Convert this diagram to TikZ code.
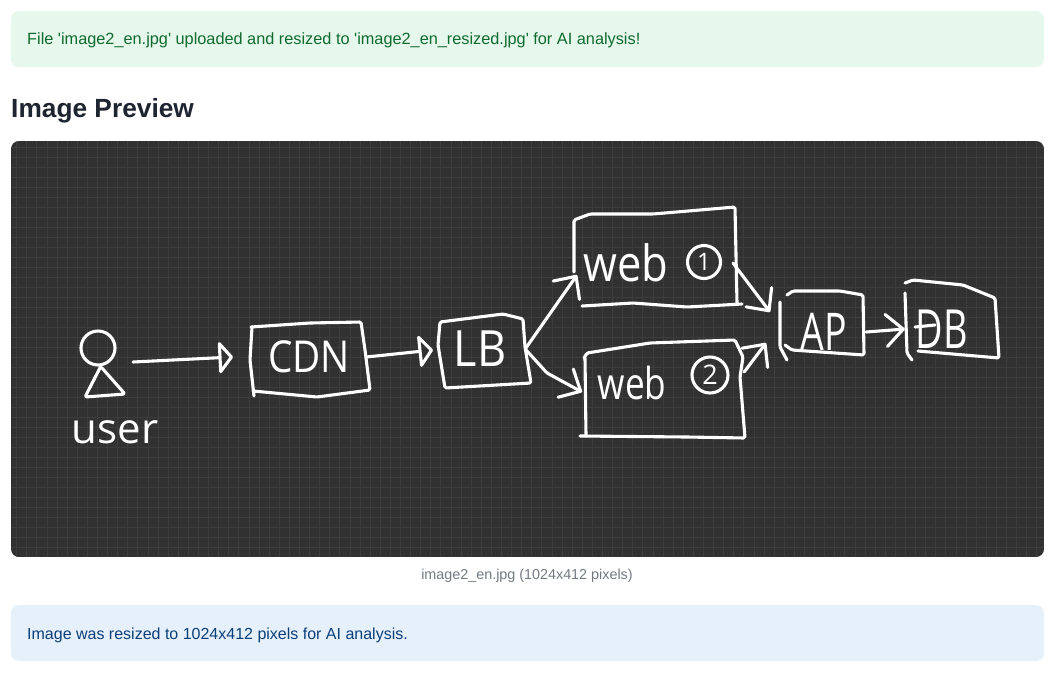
\documentclass[tikz,border=0pt]{standalone}
\usepackage{fontspec}
\usepackage{graphicx}
\setmainfont{Liberation Sans}
\newfontfamily\handfont{Open Sans}
\usetikzlibrary{arrows.meta}
\definecolor{panelbg}{HTML}{313131}
\definecolor{panelgrid}{HTML}{3D3D3D}
\definecolor{okbg}{HTML}{E6F7EC}
\definecolor{oktext}{HTML}{0F6B2F}
\definecolor{infobg}{HTML}{E6F0FB}
\definecolor{infotext}{HTML}{0A3F7A}
\definecolor{headtext}{HTML}{1F2530}
\definecolor{captext}{HTML}{737A82}
\newcommand{\narrowtext}[2]{\scalebox{#1}[1]{#2}}
\newcommand{\handsize}[1]{\handfont\fontsize{#1}{#1}\selectfont}
\begin{document}
\begin{tikzpicture}[x=1pt,y=-1pt]
\tikzset{alertbox/.style = {rounded corners=8pt}}
\tikzset{msg/.style = {anchor=base west,inner sep=0pt}}
\tikzset{stroke/.style = {draw=white,line width=3.1pt,line cap=round,line join=round,rounded corners=1.5pt}}
\tikzset{boxnode/.style = {inner sep=0pt,text=white,font=\handsize{44}}}
\tikzset{marknode/.style = {circle,draw=white,line width=3.1pt,inner sep=0pt,text=white,font=\handsize{24}}}
\tikzset{barbwire/.style = {stroke,-{Straight Barb[length=17pt,width=32pt,round]}}}
\tikzset{openwire/.style = {stroke,-{Triangle[open,length=15pt,width=36pt,round]}}}
\useasboundingbox (0,0) rectangle (1062,673);
\fill[white] (0,0) rectangle (1062,673);
% banners
\fill[okbg,alertbox] (11,11) rectangle (1044,67);
\fill[infobg,alertbox] (11,605) rectangle (1044,661);
\node[msg,text=oktext,font=\fontsize{16.3}{20}\selectfont] (okmsg) at (27,44) {File \textquotesingle image2\_en.jpg\textquotesingle{} uploaded and resized to \textquotesingle image2\_en\_resized.jpg\textquotesingle{} for AI analysis!};
\node[msg,text=infotext,font=\fontsize{16}{20}\selectfont] (infomsg) at (27,639) {Image was resized to 1024x412 pixels for AI analysis.};
\node[msg,text=headtext,font=\bfseries\fontsize{26.3}{30}\selectfont] (title) at (11,117) {Image Preview};
\node[inner sep=0pt,text=captext,font=\fontsize{14.35}{16}\selectfont] (caption) at (527,576) {image2\_en.jpg (1024x412 pixels)};
% panel
\begin{scope}
\clip[alertbox] (11,141) rectangle (1044,557);
\fill[panelbg] (11,141) rectangle (1044,557);
\foreach \gx in {0,...,102} \draw[panelgrid,line width=1pt] (16.7+10.1*\gx,141) -- (16.7+10.1*\gx,557);
\foreach \gy in {0,...,40} \draw[panelgrid,line width=1pt] (11,147.7+10*\gy) -- (1044,147.7+10*\gy);
\end{scope}
% user
\node[circle,draw=white,line width=3.1pt,minimum size=34pt,inner sep=0pt] (userhead) at (98,348) {};
\draw[stroke] (101,366) -- (85,397) -- (125,394) -- (102,368);
\node[boxnode,font=\handsize{42}] (user) at (115,432) {user};
\coordinate (userout) at (133,362);
% boxes
\node[boxnode,minimum width=114pt,minimum height=70pt] (cdn) at (309,357) {\narrowtext{.88}{CDN}};
\draw[stroke] (251,327) -- (310,323) -- (361,322) -- (365,350) -- (370,390) -- (317,397) -- (253,391);
\draw[stroke] (252,327) -- (250,360) -- (254,396);
\node[boxnode,font=\handsize{50},minimum width=90pt,minimum height=70pt] (lb) at (480,349) {\narrowtext{.9}{LB}};
\draw[stroke] (440,322) -- (503,314) -- (523,319) -- (525,347) -- (531,383) -- (445,388) -- (438,345) -- cycle;
\node[inner sep=0pt,minimum width=165pt,minimum height=95pt] (webone) at (655,258) {};
\draw[stroke] (574,272) -- (574,220) -- (590,214) -- (653,214) -- (735,207) -- (737,303);
\draw[stroke] (582,306) -- (633,303) -- (687,307) -- (742,304);
\node[boxnode,font=\handsize{50}] (webonetext) at (626,263) {\narrowtext{.87}{web}};
\node[marknode,minimum size=33pt] (webonemark) at (704,262) {1};
\node[inner sep=0pt,minimum width=160pt,minimum height=96pt] (webtwo) at (664,389) {};
\draw[stroke] (584,358) -- (587,353) -- (650,343) -- (735,340) -- (743,357) -- (740,377) -- (745,438) -- (687,437) -- (580,436);
\draw[stroke] (585,358) -- (586,436);
\node[boxnode] (webtwotext) at (632,383) {\narrowtext{.8}{web}};
\node[marknode,minimum size=36pt,font=\handsize{27}] (webtwomark) at (710,375) {2};
\node[boxnode,font=\handsize{52},minimum width=84pt,minimum height=68pt] (ap) at (824,332) {\narrowtext{.72}{AP}};
\draw[stroke] (780,302) -- (780,347) -- (787,360);
\draw[stroke] (785,345) -- (792,350) -- (864,355) -- (863,295) -- (840,291) -- (793,291) -- (787,295);
\node[boxnode,font=\handsize{54},minimum width=74pt,minimum height=70pt] (db) at (942,329) {\narrowtext{.7}{DB}};
\draw[stroke] (905,293) -- (907,353) -- (912,360);
\draw[stroke] (905,283) -- (913,280) -- (963,285) -- (995,298) -- (999,358) -- (918,351);
\draw[stroke] (915,327) -- (935,325);
% arrow ends
\coordinate (cdnin) at (233,357);
\coordinate (lbin) at (433,350);
\coordinate (weboneout) at (733,263);
\coordinate (webonein) at (577,275);
\coordinate (webtwoin) at (582,392);
\coordinate (apinone) at (770,312);
\coordinate (apintwo) at (766,343);
% edges
\draw[openwire] (userout) -- (cdnin);
\draw[openwire] (cdn.east) -- (lbin);
\draw[barbwire] (lb.east) -- (webonein);
\draw[barbwire] (lb.east) -- (547,373) -- (webtwoin);
\draw[barbwire] (weboneout) -- (apinone);
\draw[barbwire] (webtwo.12) -- (apintwo);
\draw[barbwire] (ap.east) -- (db.west);
\end{tikzpicture}
\end{document}
